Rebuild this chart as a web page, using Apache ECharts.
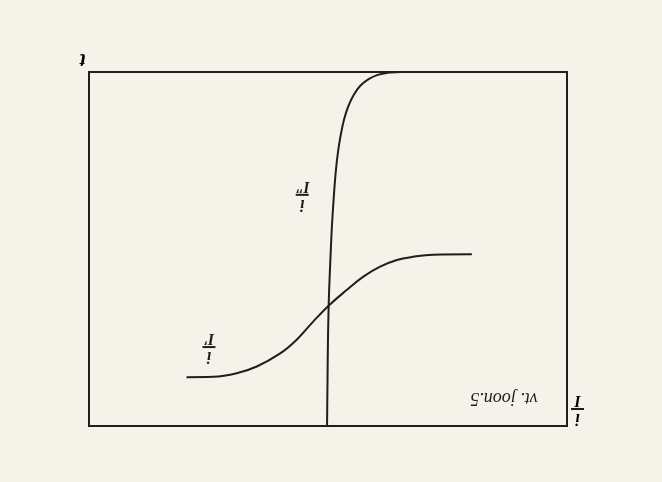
<!DOCTYPE html>
<html>
<head>
<meta charset="utf-8">
<script src="https://cdn.jsdelivr.net/npm/echarts@6/dist/echarts.min.js"></script>
<style>
  html, body { margin: 0; padding: 0; background: #f4f2e9; }
  #chart { width: 662px; height: 482px; }
</style>
</head>
<body>
<div id="chart"></div>
<script>
// the scan is upside down, so both axes are inverted (180 degree turn)
var curveOne = [ // i/I'
    [19.9, 51.5], [28.0, 51.6], [32.2, 52.2], [35.6, 53.1], [39.1, 55.0],
    [42.6, 57.8], [46.1, 61.6], [49.7, 65.8], [53.1, 70.5], [56.6, 75.7],
    [60.0, 79.5], [64.9, 83.2], [69.1, 85.1], [74.0, 86.1], [79.6, 86.2]
];
var curveTwo = [ // i/I''
    [34.9, 0], [37.5, 0.2], [39.6, 0.8], [41.5, 2.0], [43.2, 3.8], [44.6, 6.4],
    [45.7, 9.5], [46.6, 13.2], [47.3, 17.5], [47.9, 22.5], [48.4, 28.5],
    [48.8, 35.5], [49.2, 44.0], [49.5, 53.0], [49.8, 63.0], [50.0, 75.0],
    [50.1, 87.0], [50.2, 100]
];
var notes = [
    {text: '{a|i}\n{b| }\n{a|I′}', coord: [74.9, 77.7]},
    {text: '{a|i}\n{b| }\n{a|I″}', coord: [55.4, 34.7]},
    {text: '{c|vt. joon.5}', coord: [13.2, 92.1]}
];
var axisNames = [
    {text: '{d|t}', coord: [101.3, -3.6]},
    {text: '{a|i}\n{b| }\n{a|I}', coord: [-2.2, 95.2]}
];

var ink = '#1e1e1e';
var rich = {
    a: {fontFamily: 'Liberation Serif', fontStyle: 'italic', fontWeight: 'bold', fontSize: 16, lineHeight: 12, color: ink, align: 'center'},
    b: {width: 13, height: 2, lineHeight: 6, backgroundColor: ink, align: 'center'},
    c: {fontFamily: 'Liberation Serif', fontStyle: 'italic', fontSize: 18, color: ink},
    d: {fontFamily: 'Liberation Serif', fontStyle: 'italic', fontWeight: 'bold', fontSize: 20, color: ink}
};

var myChart = echarts.init(document.getElementById('chart'));
var option = {
    backgroundColor: '#f4f2e9',
    animation: false,
    grid: {
        left: 89, right: 95, top: 72, bottom: 56,
        show: true, borderColor: ink, borderWidth: 2, backgroundColor: 'transparent'
    },
    xAxis: {
        type: 'value', min: 0, max: 100, inverse: true, position: 'top',
        axisLine: {show: false}, axisTick: {show: false},
        axisLabel: {show: false}, splitLine: {show: false}
    },
    yAxis: {
        type: 'value', min: 0, max: 100, inverse: true, position: 'right',
        axisLine: {show: false}, axisTick: {show: false},
        axisLabel: {show: false}, splitLine: {show: false}
    },
    series: [
        {
            type: 'line', data: curveOne, smooth: 0.4, symbol: 'none',
            lineStyle: {color: ink, width: 2}
        },
        {
            type: 'line', data: curveTwo, smooth: 0.3, symbol: 'none',
            lineStyle: {color: ink, width: 2},
            markPoint: {
                symbol: 'circle', symbolSize: 0, silent: true,
                label: {show: true, position: 'inside', rotate: 180, rich: rich},
                data: notes.map(function (n) {
                    return {coord: n.coord, label: {formatter: n.text}};
                })
            }
        }
    ]
};
myChart.setOption(option);

// axis titles sit outside the frame, place them through the chart's own scale
myChart.setOption({
    graphic: axisNames.map(function (n) {
        var p = myChart.convertToPixel({gridIndex: 0}, n.coord);
        return {
            type: 'text', x: p[0], y: p[1], rotation: Math.PI, silent: true,
            style: {text: n.text, rich: rich, align: 'center', verticalAlign: 'middle'}
        };
    })
});
</script>
</body>
</html>
